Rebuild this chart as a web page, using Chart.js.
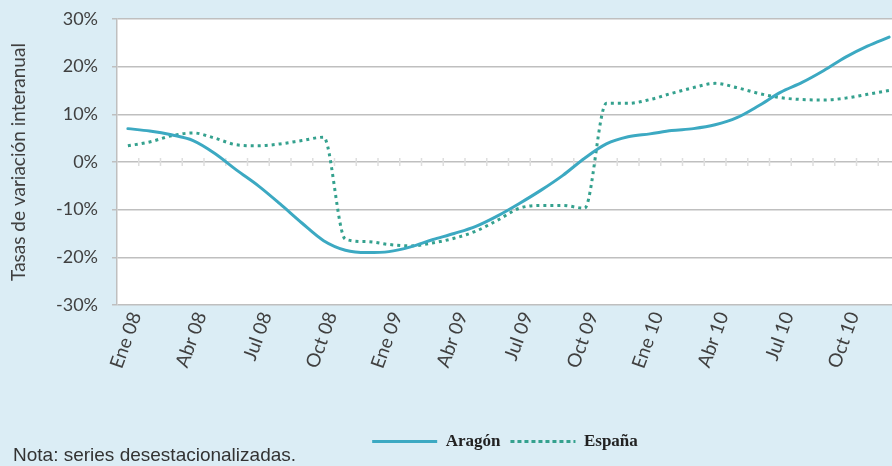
<!DOCTYPE html>
<html><head><meta charset="utf-8">
<script src="https://cdn.jsdelivr.net/npm/chart.js@4.4.1/dist/chart.umd.min.js"></script>
<style>
html,body{margin:0;padding:0;background:#dbedf5;overflow:hidden;width:892px;height:466px}
#wrap{position:absolute;left:0;top:0;width:900px;height:466px}
#nota{position:absolute;left:13px;top:444px;font-family:"Liberation Sans Narrow","Liberation Sans",sans-serif;font-size:19px;color:#333;white-space:nowrap}
</style></head><body>
<div id="wrap"><canvas id="c" width="900" height="466"></canvas></div>
<div id="nota">Nota: series desestacionalizadas.</div>
<script>
const months = [
 'Ene 08','Feb 08','Mar 08','Abr 08','May 08','Jun 08','Jul 08','Ago 08','Sep 08','Oct 08','Nov 08','Dic 08',
 'Ene 09','Feb 09','Mar 09','Abr 09','May 09','Jun 09','Jul 09','Ago 09','Sep 09','Oct 09','Nov 09','Dic 09',
 'Ene 10','Feb 10','Mar 10','Abr 10','May 10','Jun 10','Jul 10','Ago 10','Sep 10','Oct 10','Nov 10','Dic 10'
];
const aragon = [
 7.0, 6.5, 5.7, 4.5, 1.8, -1.7, -5.0, -8.8, -12.8, -16.5, -18.5, -19.0,
 -18.8, -17.8, -16.3, -15.0, -13.5, -11.3, -8.7, -5.9, -2.8, 0.8, 3.8, 5.3,
 5.9, 6.6, 7.0, 7.8, 9.3, 11.8, 14.6, 16.7, 19.2, 22.0, 24.3, 26.2
];
const espana = [
 3.4, 4.2, 5.5, 6.1, 5.0, 3.6, 3.4, 3.8, 4.5, 5.2, -16.2, -16.7,
 -17.3, -17.6, -17.0, -16.0, -14.5, -12.2, -9.7, -9.1, -9.1, -9.7, 12.3, 12.3,
 13.1, 14.4, 15.6, 16.5, 15.6, 14.4, 13.5, 13.1, 13.0, 13.4, 14.2, 15.0
];
const yMin = -30, yMax = 30, yStep = 10;
const labelEvery = 3;

const plotBg = {
  id: 'plotBg',
  beforeDraw(chart) {
    const {ctx, chartArea: a} = chart;
    ctx.save(); ctx.fillStyle = '#ffffff';
    ctx.fillRect(a.left, a.top, a.right - a.left, a.bottom - a.top);
    ctx.restore();
  },
  beforeDatasetsDraw(chart) {
    const {ctx, chartArea: a, scales: {x, y}} = chart;
    const y0 = y.getPixelForValue(0);
    const step = x.getPixelForValue(1) - x.getPixelForValue(0);
    ctx.save(); ctx.strokeStyle = '#dedede'; ctx.lineWidth = 1.5;
    for (let i = 0; i <= months.length; i++) {
      const px = x.getPixelForValue(i) - step / 2;
      if (px < a.left + 2) continue;
      ctx.beginPath(); ctx.moveTo(px, y0 - 4); ctx.lineTo(px, y0 + 4); ctx.stroke();
    }
    ctx.restore();
  }
};
const legendShift = {
  id: 'legendShift',
  afterLayout(chart) { chart.legend.left += 55; chart.legend.right += 55; }
};

function draw() {
new Chart(document.getElementById('c'), {
  type: 'line',
  data: {
    labels: months,
    datasets: [
      { label: 'Aragón', data: aragon, borderColor: '#3ca9c2', backgroundColor: '#3ca9c2',
        borderWidth: 3, pointRadius: 0, cubicInterpolationMode: 'monotone', borderCapStyle: 'round' },
      { label: 'España', data: espana, borderColor: '#34a18e', backgroundColor: '#34a18e',
        borderWidth: 3, borderDash: [3, 4], borderCapStyle: 'butt', pointRadius: 0, cubicInterpolationMode: 'monotone' }
    ]
  },
  options: {
    responsive: false, animation: false,
    layout: { padding: { left: 0, right: 0, top: 19, bottom: 6 } },
    plugins: {
      legend: {
        position: 'bottom',
        labels: { boxWidth: 65, boxHeight: 0, padding: 10,
          color: '#222', font: { family: '"Liberation Serif", serif', weight: 'bold', size: 17 } }
      },
      tooltip: { enabled: false }
    },
    scales: {
      x: {
        offset: true,
        grid: { display: false, drawTicks: false },
        border: { display: false },
        ticks: { autoSkip: false, maxRotation: 70, minRotation: 70, padding: 4, labelOffset: 8, color: '#404040',
          font: { family: 'Lato', size: 19 },
          callback: (v, i) => i % labelEvery === 0 ? months[i] : '' },
        afterFit(s) { s.height = 118; s.paddingLeft = 0; s.paddingRight = 0; }
      },
      y: {
        min: yMin, max: yMax,
        grid: { color: '#bfbfbf', lineWidth: 1.5, tickLength: 5 },
        border: { display: true, color: '#bfbfbf', width: 1.5 },
        ticks: { stepSize: yStep, padding: 14, color: '#404040', font: { family: 'Lato', size: 18 },
          callback: v => v + '%' },
        title: { display: true, text: 'Tasas de variación interanual', color: '#404040',
          font: { family: 'Lato', size: 19 }, padding: { top: 7, bottom: 6 } },
        afterFit(s) { s.width = 117; s.paddingTop = 0; s.paddingBottom = 0; }
      }
    }
  },
  plugins: [plotBg, legendShift]
});
}
Promise.all([
  document.fonts.load('18px Lato'),
  document.fonts.load('bold 17px "Liberation Serif"'),
  document.fonts.load('18px "Liberation Sans"')
]).then(draw, draw);
</script>
</body></html>
